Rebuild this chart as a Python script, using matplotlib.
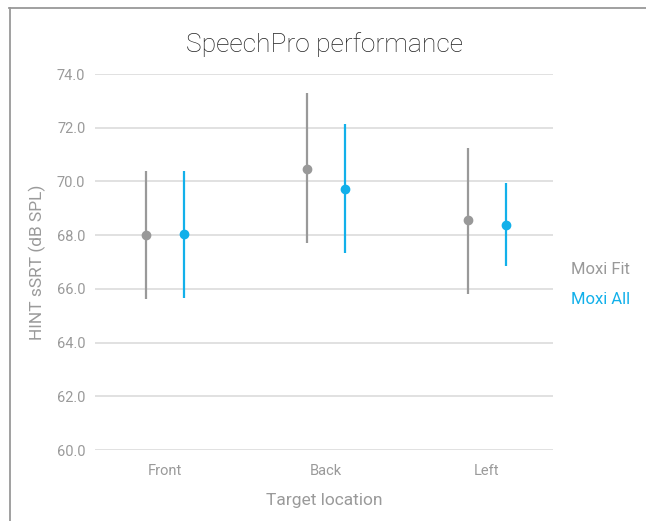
import numpy as np
import matplotlib.pyplot as plt
from matplotlib.lines import Line2D

categories = ["Front", "Back", "Left"]
series_names = ["Moxi Fit", "Moxi All"]

fit_mean = [68.0, 70.46, 68.56]
fit_low = [65.62, 67.71, 65.81]
fit_high = [70.39, 73.29, 71.24]

all_mean = [68.04, 69.72, 68.38]
all_low = [65.66, 67.34, 66.85]
all_high = [70.4, 72.14, 69.94]

yticks = [60, 62, 64, 66, 68, 70, 72, 74]

GRAY = "#999999"
BLUE = "#12b0ea"
TEXT = "#9a9a9a"

plt.rcParams["font.family"] = ["Roboto", "DejaVu Sans"]

fig = plt.figure(figsize=(6.46, 5.21), dpi=100)
ax = fig.add_axes([95 / 646, 71 / 521, 458 / 646, 376 / 521])

x = np.arange(len(categories))
offset = 0.12

series = [
    (fit_mean, fit_low, fit_high, GRAY, -offset),
    (all_mean, all_low, all_high, BLUE, offset),
]
for mean, low, high, color, dx in series:
    mean = np.array(mean)
    err = [mean - np.array(low), np.array(high) - mean]
    ax.errorbar(x + dx, mean, yerr=err, fmt="o", color=color, ecolor=color,
                markersize=6, elinewidth=1.6, capsize=0, zorder=3)

ax.set_ylim(60, 74)
ax.set_xlim(-0.435, 2.41)
ax.set_yticks(yticks)
ax.set_yticklabels([f"{v:.1f}" for v in yticks])
ax.set_xticks(x)
ax.set_xticklabels(categories)
ax.grid(axis="y", color="#dcdcdc", linewidth=1.2, zorder=0)
ax.set_axisbelow(True)
for s in ax.spines.values():
    s.set_visible(False)
ax.tick_params(axis="y", length=0, pad=7, labelsize=10.5, labelcolor=TEXT)
ax.tick_params(axis="x", length=0, pad=10, labelsize=10.5, labelcolor=TEXT)

ax.set_ylabel("HINT sSRT (dB SPL)", fontsize=12.5, color=TEXT, labelpad=8)
ax.set_xlabel("Target location", fontsize=12.5, color=TEXT, labelpad=11)
ax.set_title("SpeechPro performance", fontsize=19, color="#222222",
             fontweight="light", pad=16)

fig.text(571 / 646, 1 - 270 / 521, series_names[0], color=GRAY, fontsize=12,
         va="center", ha="left")
fig.text(571 / 646, 1 - 300 / 521, series_names[1], color=BLUE, fontsize=12,
         va="center", ha="left")

# frame lines at top and left
fig.add_artist(Line2D([9 / 646, 1], [1 - 8 / 521, 1 - 8 / 521], color="#999999", lw=1.3))
fig.add_artist(Line2D([10 / 646, 10 / 646], [0, 1 - 8 / 521], color="#999999", lw=1.3))

fig.savefig("out.png", dpi=100)
